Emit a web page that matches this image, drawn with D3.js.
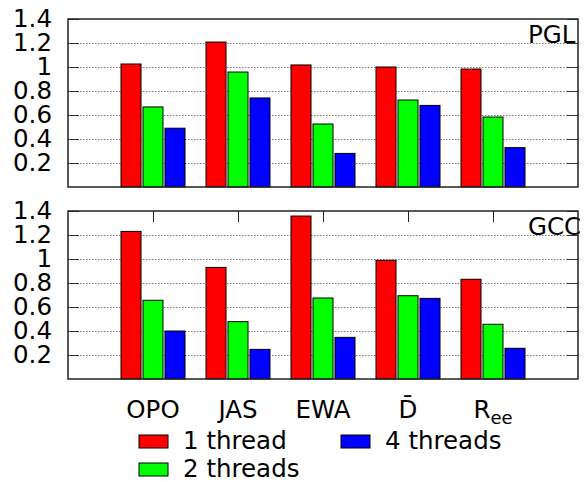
<!DOCTYPE html>
<html>
<head>
<meta charset="utf-8">
<script src="https://cdn.jsdelivr.net/npm/d3@7"></script>
<style>
  body { margin: 0; background: #fff; }
  svg { display: block; font-family: 'DejaVu Sans', sans-serif; }
</style>
</head>
<body>
<script>
const categories = ['OPO', 'JAS', 'EWA', 'D\u0304', 'R_ee'];
const series = ['1 thread', '2 threads', '4 threads'];
const colors = ['#ff0000', '#00ff00', '#0000ff'];
const yTicks = [0.2, 0.4, 0.6, 0.8, 1, 1.2, 1.4];

// values per series, one entry per category
const pgl1 = [1.025, 1.208, 1.017, 1.0, 0.983];
const pgl2 = [0.667, 0.958, 0.525, 0.725, 0.583];
const pgl4 = [0.49, 0.742, 0.28, 0.68, 0.328];

const gcc1 = [1.23, 0.93, 1.358, 0.989, 0.831];
const gcc2 = [0.656, 0.478, 0.675, 0.694, 0.456];
const gcc4 = [0.4, 0.247, 0.347, 0.672, 0.256];

const w = 585;
const h = 482;
const left = 68;
const right = 578;
const fs = 24.5;

const svg = d3.select('body').append('svg').attr('width', w).attr('height', h);

const x = d3.scaleLinear().domain([0, categories.length + 1]).range([left, right]);
const inner = d3.scaleBand().domain(series).range([-32, 32]).paddingInner(0.09);

const drawPanel = (top, bottom, title, vals, showTopTicks) => {
  const y = d3.scaleLinear().domain([0, 1.4]).range([bottom, top]);
  const g = svg.append('g');

  // dotted grid
  g.append('g')
    .attr('transform', `translate(${left},0)`)
    .call(d3.axisLeft(y).tickValues(yTicks.slice(0, -1)).tickSize(-(right - left)).tickFormat(''))
    .call((s) => s.select('.domain').remove())
    .call((s) => s.selectAll('line').attr('stroke', '#777').attr('stroke-dasharray', '1.5,1.5'));

  // inward ticks left and right
  g.append('g')
    .attr('transform', `translate(${left},0)`)
    .call(d3.axisLeft(y).tickValues(yTicks).tickSize(-11).tickFormat(''))
    .call((s) => s.select('.domain').remove())
    .call((s) => s.selectAll('line').attr('stroke', '#333'));
  g.append('g')
    .attr('transform', `translate(${right},0)`)
    .call(d3.axisRight(y).tickValues(yTicks).tickSize(-11).tickFormat(''))
    .call((s) => s.select('.domain').remove())
    .call((s) => s.selectAll('line').attr('stroke', '#333'));

  // tick labels
  g.append('g')
    .attr('transform', `translate(${left},0)`)
    .call(d3.axisLeft(y).tickValues(yTicks).tickSize(0).tickPadding(16).tickFormat((d) => String(d)))
    .call((s) => s.select('.domain').remove())
    .call((s) => s.selectAll('text').attr('font-size', fs).attr('font-family', 'DejaVu Sans').attr('fill', '#000'));

  if (showTopTicks) {
    g.append('g')
      .attr('transform', `translate(0,${top})`)
      .call(d3.axisTop(x).tickValues(d3.range(1, categories.length + 1)).tickSize(-11).tickFormat(''))
      .call((s) => s.select('.domain').remove())
      .call((s) => s.selectAll('line').attr('stroke', '#222'));
  }

  // bars
  series.forEach((name, si) => {
    g.append('g')
      .selectAll('rect')
      .data(vals[si])
      .enter()
      .append('rect')
      .attr('x', (d, i) => x(i + 1) + inner(name))
      .attr('y', (d) => y(d))
      .attr('width', inner.bandwidth())
      .attr('height', (d) => y(0) - y(d))
      .attr('fill', colors[si])
      .attr('stroke', '#000')
      .attr('stroke-width', 1);
  });

  g.append('text')
    .attr('x', 528)
    .attr('y', top + 24)
    .attr('font-size', fs)
    .text(title);

  // frame
  g.append('rect')
    .attr('x', left)
    .attr('y', top)
    .attr('width', right - left)
    .attr('height', bottom - top)
    .attr('fill', 'none')
    .attr('stroke', '#222')
    .attr('stroke-width', 1.5);

  return y;
};

drawPanel(19, 187, 'PGL', [pgl1, pgl2, pgl4], false);
drawPanel(211, 379, 'GCC', [gcc1, gcc2, gcc4], true);

// category labels
const labels = svg.append('g')
  .selectAll('text')
  .data(categories)
  .enter()
  .append('text')
  .attr('x', (d, i) => x(i + 1))
  .attr('y', 418)
  .attr('text-anchor', 'middle')
  .attr('font-size', fs);
labels.each(function (d) {
  const parts = d.split('_');
  const t = d3.select(this);
  t.append('tspan').text(parts[0]);
  if (parts[1]) {
    t.append('tspan').attr('font-size', 18).attr('dy', 6).text(parts[1]);
  }
});

// legend
const legendItems = [
  { name: series[0], color: colors[0], x: 139, y: 435 },
  { name: series[2], color: colors[2], x: 341, y: 435 },
  { name: series[1], color: colors[1], x: 139, y: 463 },
];
const legend = svg.append('g')
  .selectAll('g')
  .data(legendItems)
  .enter()
  .append('g')
  .attr('transform', (d) => `translate(${d.x},${d.y})`);
legend.append('rect')
  .attr('width', 29)
  .attr('height', 13)
  .attr('fill', (d) => d.color)
  .attr('stroke', '#000');
legend.append('text')
  .attr('x', 44)
  .attr('y', 14)
  .attr('font-size', fs)
  .text((d) => d.name);
</script>
</body>
</html>
